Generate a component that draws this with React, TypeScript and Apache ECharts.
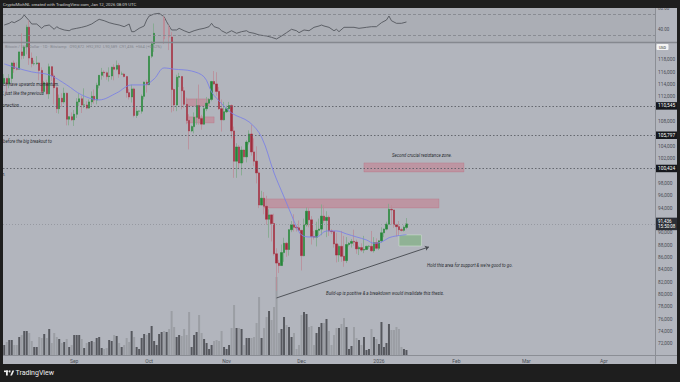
import React, { useEffect, useRef } from 'react';
import * as echarts from 'echarts';

// ---------- data (prices in thousands of USD) ----------
const startDay = '2025-08-04';
const dayCount = 261;

const opens = [
  114.2,115.0,114.1,115.0,117.5,116.6,116.5,119.3,118.7,120.1,
  123.3,118.3,117.4,117.4,117.5,116.3,112.9,114.3,112.5,116.9,
  115.4,113.5,110.1,111.8,111.2,112.6,108.4,108.8,108.3,109.2,
  111.2,111.7,110.7,110.7,110.2,111.2,112.1,111.5,113.9,115.5,
  116.0,115.9,115.3,115.4,116.8,116.5,117.1,115.7,115.7,115.3,
  112.7,112.0,113.3,109.0,109.7,109.7,112.1,114.4,114.0,118.6,
  120.6,122.3,122.4,123.5,124.8,121.4,123.3,121.7,113.2,110.7,
  115.2,115.3,113.0,110.8,108.2,106.5,107.2,108.7,110.6,108.5,
  107.6,110.1,111.0,111.6,114.5,114.1,112.9,110.1,108.3,109.6,
  110.1,110.6,106.5,101.6,103.9,101.3,103.4,102.3,104.7,106.0,
  103.1,101.6,99.7,94.5,95.6,94.3,92.2,92.9,91.5,86.6,
  85.1,84.7,86.8,88.3,87.3,90.5,91.3,90.9,90.8,90.4,
  86.3,91.3,93.5,92.1,89.4,89.3,90.4,90.6,92.7,92.0,
  92.5,90.3,90.2,88.2,86.4,87.8,86.2,85.5,88.1,88.3,
  88.6,88.5,87.4,87.6,87.2,87.3,87.8,87.8,87.1,88.4,
  87.5,88.7,90.0,90.6,91.4,93.8,93.7,91.3,91.0,90.5,
  90.4,90.872
];
const highs = [
  115.7,115.1,115.7,117.6,117.9,117.6,119.3,122.3,120.3,123.7,
  124.4,119.2,117.9,118.6,117.6,116.8,114.6,114.8,117.4,117.0,
  115.8,113.7,112.4,112.6,113.5,112.7,108.9,109.5,109.9,111.8,
  112.6,112.2,113.4,111.3,111.6,112.9,113.2,114.3,115.5,116.7,
  116.3,116.1,116.8,116.9,117.3,117.9,117.5,116.1,115.9,115.4,
  113.3,114.0,113.5,110.3,109.8,112.4,114.5,114.8,118.6,121.0,
  123.9,122.9,125.6,126.2,125.1,124.1,123.7,122.5,113.4,115.6,
  115.9,115.4,113.6,111.9,109.2,107.4,109.5,111.7,114.0,109.1,
  110.4,112.0,111.8,114.6,116.2,116.0,113.6,111.6,111.2,110.6,
  111.2,110.8,107.2,104.5,104.2,104.0,103.5,105.0,106.6,107.5,
  105.3,104.0,99.9,96.8,96.6,96.0,93.8,92.9,93.1,87.5,
  85.6,88.1,89.2,88.5,90.6,91.9,93.0,91.2,92.0,90.4,
  92.3,94.1,94.1,92.7,90.3,91.8,92.3,94.6,94.5,93.5,
  92.8,90.6,90.2,90.0,88.1,90.3,89.5,89.3,88.5,89.0,
  90.5,88.9,87.9,88.3,89.5,87.9,88.0,90.3,89.3,89.1,
  88.8,90.9,90.7,91.8,94.7,94.5,93.7,91.5,91.9,90.8,
  91.2,92.392
];
const lows = [
  114.0,112.6,113.4,114.3,115.9,116.3,116.5,118.1,118.2,118.9,
  117.2,116.8,117.1,117.2,114.7,112.7,112.4,112.4,111.7,114.6,
  110.8,109.4,109.3,110.4,110.9,107.4,107.4,108.1,107.3,108.6,
  110.5,109.4,110.2,110.0,110.1,110.6,110.9,110.8,113.4,114.8,
  115.2,114.8,114.5,114.8,114.7,116.3,115.1,115.6,115.2,111.9,
  111.6,111.1,108.7,108.6,109.1,109.3,111.6,112.7,113.9,118.3,
  119.3,121.6,122.2,123.1,120.6,121.1,119.6,109.5,109.7,109.7,
  113.6,110.0,110.2,107.6,103.5,106.3,106.1,107.5,107.5,106.7,
  107.5,109.7,110.9,111.3,113.9,112.2,109.9,106.4,108.2,109.4,
  109.6,105.3,98.9,98.9,100.3,99.3,101.4,101.4,104.3,102.5,
  100.8,98.0,94.0,94.5,93.0,91.3,89.2,88.6,86.3,80.6,
  83.5,84.7,85.3,86.1,86.3,90.1,90.2,90.2,90.3,83.9,
  86.2,91.0,90.9,88.1,88.9,87.8,89.6,89.6,91.6,89.3,
  89.5,89.8,87.6,85.2,85.3,85.3,84.5,85.1,87.8,87.6,
  87.9,86.6,86.4,86.9,86.7,87.2,87.4,86.9,86.8,87.3,
  87.2,88.4,89.3,90.4,91.3,91.3,90.8,89.4,89.5,90.2,
  90.2,90.589
];
const closes = [
  115.0,114.1,115.0,117.5,116.6,116.5,119.3,118.7,120.1,123.3,
  118.3,117.4,117.4,117.5,116.3,112.9,114.3,112.5,116.9,115.4,
  113.5,110.1,111.8,111.2,112.6,108.4,108.8,108.3,109.2,111.2,
  111.7,110.7,110.7,110.2,111.2,112.1,111.5,113.9,115.5,116.0,
  115.9,115.3,115.4,116.8,116.5,117.1,115.7,115.7,115.3,112.7,
  112.0,113.3,109.0,109.7,109.7,112.1,114.4,114.0,118.6,120.6,
  122.3,122.4,123.5,124.8,121.4,123.3,121.7,113.2,110.7,115.2,
  115.3,113.0,110.8,108.2,106.5,107.2,108.7,110.6,108.5,107.6,
  110.1,111.0,111.6,114.5,114.1,112.9,110.1,108.3,109.6,110.1,
  110.6,106.5,101.6,103.9,101.3,103.4,102.3,104.7,106.0,103.1,
  101.6,99.7,94.5,95.6,94.3,92.2,92.9,91.5,86.6,85.1,
  84.7,86.8,88.3,87.3,90.5,91.3,90.9,90.8,90.4,86.3,
  91.3,93.5,92.1,89.4,89.3,90.4,90.6,92.7,92.0,92.5,
  90.3,90.2,88.2,86.4,87.8,86.2,85.5,88.1,88.3,88.6,
  88.5,87.4,87.6,87.2,87.3,87.8,87.8,87.1,88.4,87.5,
  88.7,90.0,90.6,91.4,93.8,93.7,91.3,91.0,90.5,90.4,
  90.9,91.436
];
const volumes = [
  10,13,15,15,10,10,18,20,24,24, 22,14,8,8,18,17,21,17,26,12,
  22,18,16,12,13,16,8,10,20,20, 20,16,7,12,13,14,13,17,18,7,
  6,7,15,14,20,19,12,8,10,17, 13,24,18,8,6,17,21,20,22,29,
  14,10,21,23,24,23,26,44,28,18, 20,19,26,20,43,8,20,23,40,22,
  16,12,6,10,14,15,14,24,8,6, 10,27,50,27,27,26,10,17,17,17,
  18,32,58,17,27,38,44,35,48,78, 22,26,38,30,28,18,22,6,10,40,
  43,41,28,29,10,22,28,32,32,36, 24,10,20,27,27,31,37,28,6,9,
  28,17,15,10,18,5,6,26,18,16, 11,33,8,12,31,25,25,28,26,8,
  6,5
];
// 20-day moving average: [day index, value]
const maPoints = [
  [0,117.35],[5,116.7],[11,116.06],[18,115.57],[25,113.95],[31,112.33],[38,111.52],
  [45,112.65],[51,113.95],[56,113.95],[60,114.92],[64,116.7],[68,116.5],[75,116.2],
  [80,115.25],[83,112.8],[85,111.8],[91,109.4],[98,107.96],[103,105.5],[108,99.7],
  [112,95.8],[115,92.89],[117,90.95],[119,89.65],[122,89.33],[125,89.33],[129,90.3],
  [133,90.3],[137,89.82],[141,89.33],[145,88.84],[148,88.3],[151,88.5],[154,89.2],
  [157,89.5],[161,89.7]
];
// RSI: [day index, value]
const rsiPoints = [
  [0,49.3],[2,52.5],[3,55.6],[4,53.7],[6,58.7],[7,61.9],[8,68.1],[10,57.4],[11,51.2],
  [13,51.2],[15,43.1],[16,47.5],[18,49.3],[20,41.3],[21,46.2],[22,43.1],[24,40.0],
  [26,38.6],[27,41.3],[29,43.1],[31,45.0],[33,47.5],[35,51.2],[37,57.4],[38,60.0],
  [40,57.4],[42,53.7],[44,51.2],[46,49.3],[48,46.2],[50,51.2],[51,36.8],[52,36.8],
  [54,43.1],[56,47.5],[57,58.7],[58,66.2],[60,70.0],[62,71.3],[64,64.9],[65,55.6],
  [66,47.5],[67,40.0],[69,40.0],[70,43.1],[72,38.6],[74,34.9],[76,38.6],[78,41.3],
  [80,43.1],[82,46.2],[83,52.5],[84,46.2],[86,43.1],[87,38.6],[89,33.8],[91,38.6],
  [93,33.8],[95,36.8],[97,38.6],[98,35.6],[100,33.8],[102,30.6],[105,28.7],[107,26.2],
  [109,23.1],[111,28.7],[113,34.9],[115,41.3],[117,38.6],[118,34.9],[120,40.0],
  [122,38.6],[124,45.0],[126,47.5],[127,49.3],[128,47.5],[130,45.0],[132,38.6],
  [133,41.3],[134,36.8],[136,45.0],[140,45.0],[142,43.1],[145,45.0],[147,46.2],
  [149,46.2],[151,53.7],[153,58.7],[154,66.2],[155,57.4],[157,52.5],[159,52.5],[161,55.0]
];
const rsiTicks = [40, 80];
const rsiBands = [70, 30];
const keyLevels = [110.545, 105.797, 100.424];
const lastPrice = 91.436;
const countdown = '15:50:08';
// zones: [startDay, endDay, top, bottom]
const resistanceZones = [
  [104, 174, 95.49, 94.03],
  [144, 184, 101.32, 99.86],
  [73, 82, 111.68, 110.55],
  [73, 84, 108.77, 107.8]
];
const supportZone = [158, 167, 89.66, 87.87];
const trendLine = [[109, 79.45], [170, 87.71]];

// ---------- helpers ----------
const days: string[] = [];
{
  const d0 = new Date(startDay + 'T00:00:00Z').getTime();
  for (let i = 0; i < dayCount; i++) days.push(new Date(d0 + i * 86400000).toISOString().slice(0, 10));
}
const monthNames = ['Jan', 'Feb', 'Mar', 'Apr', 'May', 'Jun', 'Jul', 'Aug', 'Sep', 'Oct', 'Nov', 'Dec'];
const fmtK = (v: number) => Math.round(v * 1000).toLocaleString('en-US');
const FONT = 'Roboto, "Noto Sans", "DejaVu Sans", sans-serif';

const UP = '#27853a', DOWN = '#a02c3c', UP_W = '#7fa889', DOWN_W = '#bb8c97';

function buildOption(): any {
  const wickData = opens.map((o, i) => [o, closes[i], lows[i], highs[i]]);
  const bodyData = opens.map((o, i) => [o, closes[i], Math.min(o, closes[i]), Math.max(o, closes[i])]);
  const volData = volumes.map((v, i) => ({
    value: v,
    itemStyle: { color: closes[i] >= opens[i] ? '#56585e' : '#9b9ea4' }
  }));

  const levelMarks: any[] = keyLevels.map((v) => ({
    yAxis: v,
    lineStyle: { color: '#5c5f66', type: [1.5, 2], width: 0.9 },
    label: {
      show: true, position: 'end', formatter: fmtK(v), color: '#ffffff', backgroundColor: '#16181d',
      padding: [1.5, 2, 1, 2], fontSize: 4.8, distance: 1, fontFamily: FONT
    }
  }));
  levelMarks.push({
    yAxis: lastPrice,
    lineStyle: { color: '#8f9299', type: [1, 2], width: 0.8 },
    label: {
      show: true, position: 'end', formatter: fmtK(lastPrice) + '\n' + countdown, color: '#ffffff',
      backgroundColor: '#2c2f36', padding: [1.5, 2, 1, 2], fontSize: 4.5, lineHeight: 5, distance: 1, fontFamily: FONT
    }
  });

  const zoneItem = (z: number[], color: string, border: string) => [
    { coord: [days[z[0]], z[2]], itemStyle: { color, borderColor: border, borderWidth: 0.6 } },
    { coord: [days[z[1]], z[3]] }
  ];

  const cat = (gridIndex: number, showLabels: boolean) => ({
    type: 'category', gridIndex, data: days, boundaryGap: true,
    axisLine: { show: false }, axisTick: { show: false }, splitLine: { show: false },
    axisLabel: showLabels ? {
      show: true, margin: 2.5, fontSize: 5, color: '#4a4d54', fontFamily: FONT,
      interval: (_i: number, v: string) => v.endsWith('-01'),
      formatter: (v: string) => { const m = +v.slice(5, 7); return m === 1 ? v.slice(0, 4) : monthNames[m - 1]; }
    } : { show: false }
  });

  const txt = (text: string, x: number, y: number, extra: any = {}) => ({
    type: 'text', x, y, z: 50, silent: true,
    style: {
      text, fill: '#2b2d32', fontSize: 4.4, fontStyle: 'italic', fontFamily: FONT,
      align: 'left', verticalAlign: 'middle', textAlign: 'left', textVerticalAlign: 'middle', ...extra
    }
  });

  return {
    animation: false,
    backgroundColor: '#b2b5bd',
    textStyle: { fontFamily: FONT },
    grid: [
      { left: 3, right: 25, top: 8, height: 34, show: true, backgroundColor: '#abaeb5', borderWidth: 0 },
      { left: 3, right: 25, top: 42, height: 314.3 },
      { left: 3, right: 25, top: 255, height: 100 }
    ],
    xAxis: [cat(0, false), cat(1, true), cat(2, false)],
    yAxis: [
      {
        type: 'value', gridIndex: 0, min: 17.4, max: 81.3, position: 'right',
        splitLine: { show: false }, axisLine: { show: false }, axisTick: { show: false },
        axisLabel: { customValues: rsiTicks, formatter: (v: number) => v.toFixed(2), fontSize: 4.5, color: '#4a4d54', margin: 3 }
      },
      {
        type: 'value', gridIndex: 1, min: 70, max: 120.9, interval: 2, position: 'right',
        splitLine: { show: false }, axisLine: { show: false }, axisTick: { show: false },
        axisLabel: {
          fontSize: 4.8, color: '#4a4d54', margin: 3, showMinLabel: false, showMaxLabel: false,
          formatter: (v: number) => ([70, 100, 106, 110, 120].includes(Math.round(v)) ? '' : fmtK(v))
        }
      },
      { type: 'value', gridIndex: 2, min: 0, max: 100, show: false }
    ],
    series: [
      {
        type: 'line', name: 'RSI', xAxisIndex: 0, yAxisIndex: 0, data: rsiPoints, showSymbol: false,
        lineStyle: { color: '#55585f', width: 0.9 }, z: 3,
        markLine: {
          silent: true, symbol: ['none', 'none'], label: { show: false },
          lineStyle: { color: '#80838a', type: [3, 2], width: 0.8 },
          data: rsiBands.map((b) => ({ yAxis: b }))
        }
      },
      {
        type: 'bar', name: 'Volume', xAxisIndex: 2, yAxisIndex: 2, data: volData, barWidth: '80%', z: 1
      },
      {
        type: 'candlestick', name: 'wick', xAxisIndex: 1, yAxisIndex: 1, data: wickData, barWidth: 1.7, z: 3,
        itemStyle: { color: UP_W, color0: DOWN_W, borderColor: UP_W, borderColor0: DOWN_W, borderWidth: 0.8 },
        markArea: {
          silent: true,
          data: [
            ...resistanceZones.map((z) => zoneItem(z, 'rgba(205,105,125,0.42)', 'rgba(190,100,120,0.5)')),
            zoneItem(supportZone, 'rgba(110,175,110,0.5)', 'rgba(215,235,215,0.8)')
          ]
        },
        markLine: {
          silent: true, symbol: ['none', 'none'], animation: false,
          data: [
            ...levelMarks,
            [
              { coord: [days[trendLine[0][0]], trendLine[0][1]], symbol: 'none', lineStyle: { color: '#45484e', width: 0.9, type: 'solid' }, label: { show: false } },
              { coord: [days[trendLine[1][0]], trendLine[1][1]], symbol: 'arrow', symbolSize: 4 }
            ]
          ]
        }
      },
      {
        type: 'candlestick', name: 'body', xAxisIndex: 1, yAxisIndex: 1, data: bodyData, barWidth: 1.7, z: 4,
        itemStyle: { color: UP, color0: DOWN, borderColor: UP, borderColor0: DOWN, borderWidth: 0.4 }
      },
      {
        type: 'line', name: 'MA', xAxisIndex: 1, yAxisIndex: 1, data: maPoints, showSymbol: false, smooth: 0.35,
        lineStyle: { color: '#7d82e4', width: 0.9 }, z: 5
      }
    ],
    graphic: [
      // frame strips
      { type: 'rect', z: 100, silent: true, shape: { x: 0, y: 0, width: 680, height: 8 }, style: { fill: '#1e1e1e' } },
      { type: 'rect', z: 100, silent: true, shape: { x: 0, y: 364, width: 680, height: 18 }, style: { fill: '#1e1e1e' } },
      { type: 'rect', z: 100, silent: true, shape: { x: 0, y: 0, width: 3, height: 382 }, style: { fill: '#1e1e1e' } },
      { type: 'rect', z: 100, silent: true, shape: { x: 677, y: 0, width: 3, height: 382 }, style: { fill: '#1e1e1e' } },
      // separators
      { type: 'line', z: 60, silent: true, shape: { x1: 3, y1: 42.5, x2: 677, y2: 42.5 }, style: { stroke: '#85888f', lineWidth: 1.5 } },
      { type: 'line', z: 60, silent: true, shape: { x1: 655.5, y1: 8, x2: 655.5, y2: 364 }, style: { stroke: '#8b8e95', lineWidth: 1 } },
      { type: 'line', z: 60, silent: true, shape: { x1: 3, y1: 355.5, x2: 677, y2: 355.5 }, style: { stroke: '#8b8e95', lineWidth: 1 } },
      // USD box
      { type: 'rect', z: 60, silent: true, shape: { x: 656.5, y: 44, width: 12, height: 6, r: 1 }, style: { fill: '#f4f4f4' } },
      { type: 'text', z: 61, x: 662.5, y: 47, silent: true, style: { text: 'USD', fill: '#333', fontSize: 3.8, fontFamily: FONT, align: 'center', verticalAlign: 'middle', textAlign: 'center', textVerticalAlign: 'middle' } },
      // header / footer
      { type: 'text', z: 110, x: 3, y: 4, silent: true, style: { text: 'CryptoMichNL created with TradingView.com, Jan 12, 2026 08:09 UTC', fill: '#cfcfcf', fontSize: 4.3, fontFamily: FONT, align: 'left', verticalAlign: 'middle', textAlign: 'left', textVerticalAlign: 'middle' } },
      { type: 'rect', z: 110, silent: true, shape: { x: 4, y: 370.5, width: 4.2, height: 1.6 }, style: { fill: '#eeeeee' } },
      { type: 'rect', z: 110, silent: true, shape: { x: 6, y: 370.5, width: 1.8, height: 5 }, style: { fill: '#eeeeee' } },
      { type: 'circle', z: 110, silent: true, shape: { cx: 9.6, cy: 371.4, r: 0.9 }, style: { fill: '#eeeeee' } },
      { type: 'polygon', z: 110, silent: true, shape: { points: [[10.2, 375.5], [12.4, 370.5], [14.2, 370.5], [12, 375.5]] }, style: { fill: '#eeeeee' } },
      { type: 'text', z: 110, x: 15.5, y: 373.2, silent: true, style: { text: 'TradingView', fill: '#eeeeee', fontSize: 7, fontFamily: FONT, align: 'left', verticalAlign: 'middle', textAlign: 'left', textVerticalAlign: 'middle' } },
      // legend
      { type: 'text', z: 50, x: 5, y: 46, silent: true, style: { text: 'Bitcoin / U.S. Dollar · 1D · Bitstamp   O90,872  H92,392  L90,589  C91,436  +564 (+0.62%)', fill: '#83868d', fontSize: 4, fontFamily: FONT, align: 'left', verticalAlign: 'middle', textAlign: 'left', textVerticalAlign: 'middle' } },
      // annotations
      txt('ich have upwards momentum.', 2, 84.5),
      txt('l, just like the previous', 2, 93),
      txt('orrection.', 2, 105),
      txt('before the big breakout to', 3, 141),
      txt('n.', 2, 174),
      txt('Second crucial resistance zone.', 392, 155.5),
      txt("Hold this area for support & we're good to go.", 427, 265.5),
      txt('Build-up is positive & a breakdown would invalidate this thesis.', 326, 293.5)
    ]
  };
}

export default function App() {
  const ref = useRef<HTMLDivElement>(null);
  useEffect(() => {
    if (!ref.current) return;
    const chart = echarts.init(ref.current, null, { renderer: 'svg' });
    chart.setOption(buildOption());
    return () => chart.dispose();
  }, []);
  return <div ref={ref} style={{ position: 'absolute', left: 0, top: 0, width: 680, height: 382 }} />;
}
